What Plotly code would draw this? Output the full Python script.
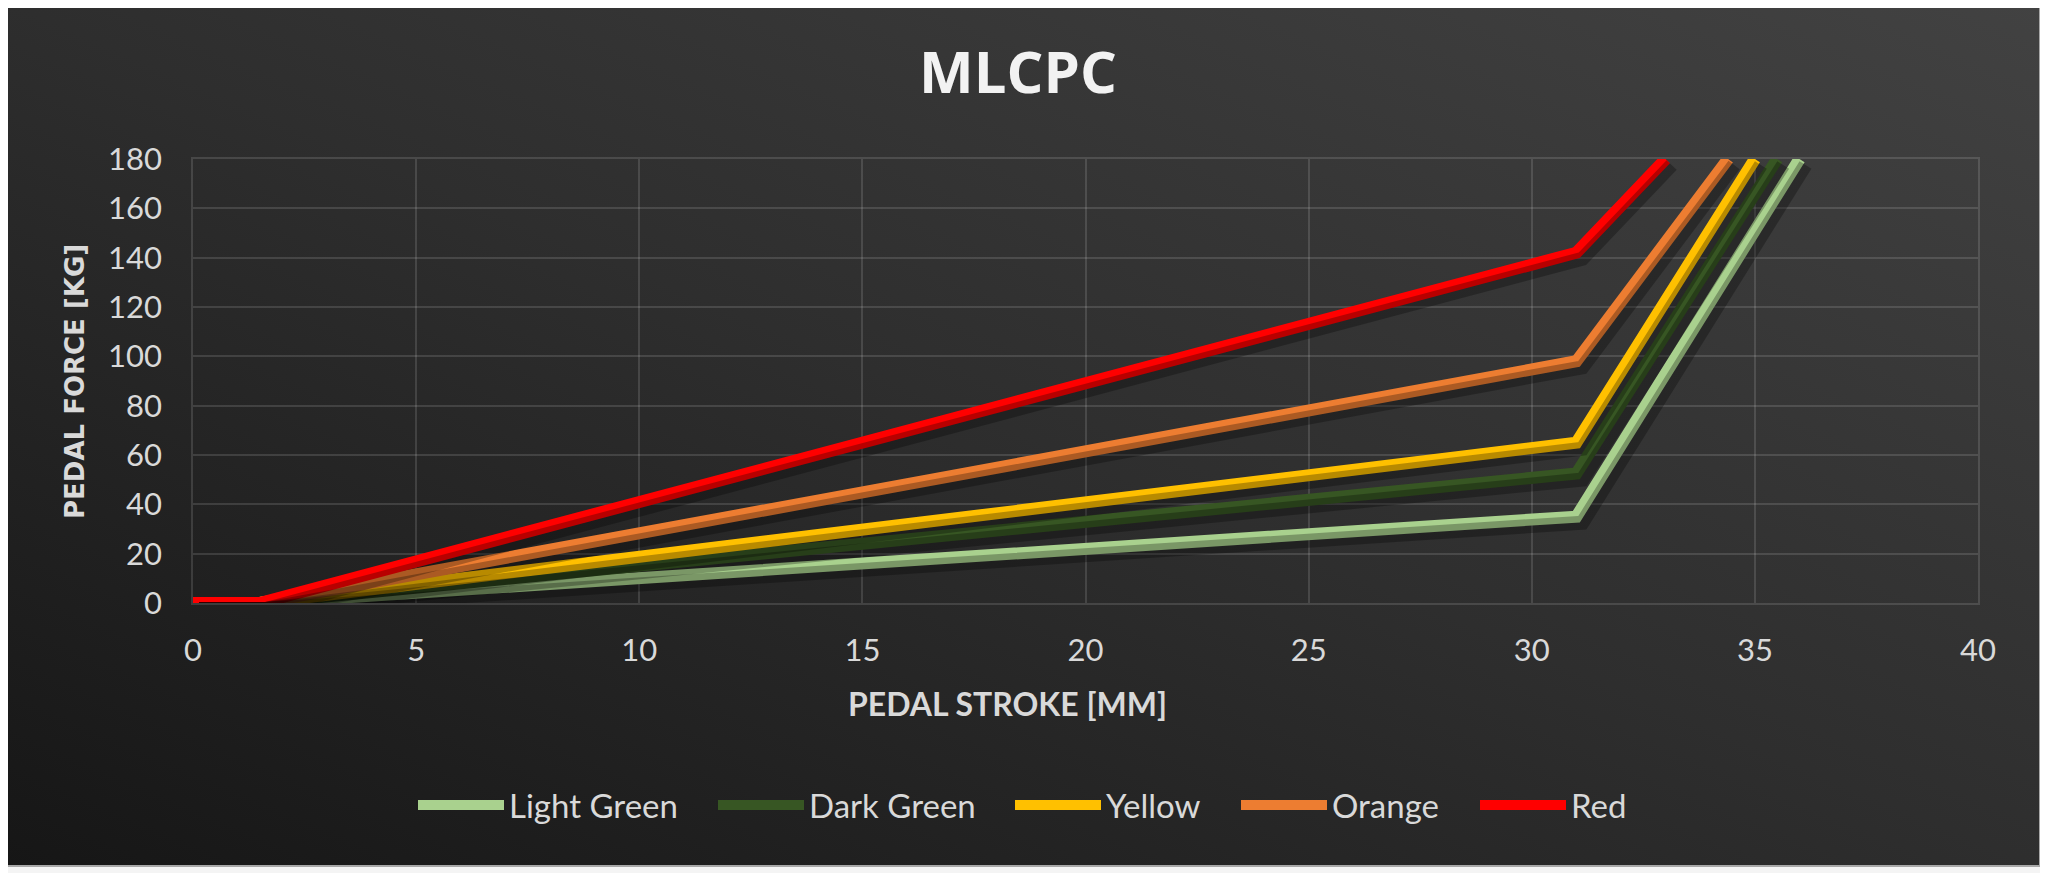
import base64
import plotly.graph_objects as go

# ---- data ----
series_names = ["Light Green", "Dark Green", "Yellow", "Orange", "Red"]
series_colors = ["#A9D18E", "#375623", "#FFC000", "#ED7D31", "#FF0000"]

stroke_light_green = [0, 1.5, 31, 36.0]
force_light_green = [0, 0, 35, 180]

stroke_dark_green = [0, 1.5, 31, 35.5]
force_dark_green = [0, 0, 52.5, 180]

stroke_yellow = [0, 1.5, 31, 35.0]
force_yellow = [0, 0, 65, 180]

stroke_orange = [0, 1.5, 31, 34.4]
force_orange = [0, 0, 98, 180]

stroke_red = [0, 1.5, 31, 33.0]
force_red = [0, 0, 142, 180]

x_series = [stroke_light_green, stroke_dark_green, stroke_yellow, stroke_orange, stroke_red]
y_series = [force_light_green, force_dark_green, force_yellow, force_orange, force_red]

# ---- layout geometry (figure px; page has an 8px body margin) ----
W, H = 2048, 873
L, R, T, B = 185, 78, 151, 278
PW, PH = W - L - R, H - T - B
legend_item_x = [405, 705, 1002, 1228, 1467]
legend_y = 797

fig = go.Figure()

# soft drop shadows: same data drawn on an offset overlay axis
sx, sy = 6 / PW * 40, 6 / PH * 180
for xs, ys in zip(x_series, y_series):
    fig.add_trace(go.Scatter(x=xs, y=ys, mode="lines", xaxis="x2", yaxis="y2",
                             line=dict(color="rgba(0,0,0,0.28)", width=14),
                             showlegend=False, hoverinfo="skip"))

legend_ids = ["legend", "legend2", "legend3", "legend4", "legend5"]
for name, col, xs, ys, lg in zip(series_names, series_colors, x_series, y_series, legend_ids):
    fig.add_trace(go.Scatter(x=xs, y=ys, mode="lines", name=name, legend=lg,
                             line=dict(color=col, width=12)))

svg = (
    f"<svg xmlns='http://www.w3.org/2000/svg' width='{W}' height='{H}'>"
    "<defs><linearGradient id='g' x1='0' y1='1' x2='1' y2='0'>"
    "<stop offset='0' stop-color='#161616'/>"
    "<stop offset='0.5' stop-color='#2e2e2e'/>"
    "<stop offset='1' stop-color='#424242'/>"
    "</linearGradient></defs>"
    f"<rect width='{W}' height='{H}' fill='#f4f4f4'/>"
    "<rect x='-10' y='-10' width='2042' height='868' fill='url(#g)' stroke='#a8a8a8' stroke-width='2'/>"
    "</svg>"
)
src = "data:image/svg+xml;base64," + base64.b64encode(svg.encode()).decode()

grid = "rgba(255,255,255,0.13)"
tickfont = dict(family="Lato", size=31, color="#d9d9d9")
legfont = dict(family="Lato", size=33, color="#d9d9d9")

legends = {}
for lg, lx in zip(legend_ids, legend_item_x):
    legends[lg] = dict(orientation="h", xref="container", x=lx / W, xanchor="left",
                       yref="container", y=1 - legend_y / H, yanchor="middle",
                       font=legfont, itemwidth=86, bgcolor="rgba(0,0,0,0)",
                       borderwidth=0)

fig.update_layout(
    width=W, height=H,
    margin=dict(l=L, r=R, t=T, b=B),
    paper_bgcolor="#2a2a2a",
    plot_bgcolor="rgba(0,0,0,0)",
    images=[dict(source=src, xref="paper", yref="paper",
                 x=-L / PW, y=1 + T / PH, sizex=W / PW, sizey=H / PH,
                 xanchor="left", yanchor="top", sizing="stretch", layer="below")],
    title=dict(text="<b>MLCPC</b>", x=1010 / W, xref="container", xanchor="center",
               y=1 - 65 / H, yref="container", yanchor="middle",
               font=dict(family="Open Sans", size=58, color="#f2f2f2")),
    xaxis=dict(range=[0, 40], dtick=5, tick0=0, showgrid=True, gridcolor=grid, gridwidth=1.5,
               zeroline=False, showline=True, mirror=True, linecolor=grid, linewidth=1.5,
               tickfont=tickfont, ticklabelstandoff=19, fixedrange=True),
    yaxis=dict(range=[0, 180], dtick=20, tick0=0, showgrid=True, gridcolor=grid, gridwidth=1.5,
               zeroline=False, showline=True, mirror=True, linecolor=grid, linewidth=1.5,
               tickfont=tickfont, ticklabelstandoff=23, fixedrange=True),
    xaxis2=dict(range=[0 - sx, 40 - sx], overlaying="x", visible=False, fixedrange=True),
    yaxis2=dict(range=[0 + sy, 180 + sy], overlaying="y", visible=False, fixedrange=True),
    showlegend=True,
    annotations=[
        dict(text="<b>PEDAL STROKE [MM]</b>", xref="paper", yref="paper",
             x=(999 - L) / PW, y=1 - (695 - T) / PH, xanchor="center", yanchor="middle",
             showarrow=False, font=dict(family="Lato", size=32, color="#d9d9d9")),
        dict(text="<b>PEDAL FORCE [KG]</b>", xref="paper", yref="paper",
             x=(67 - L) / PW, y=1 - (374 - T) / PH, xanchor="center", yanchor="middle",
             textangle=-90, showarrow=False,
             font=dict(family="DejaVu Sans", size=26, color="#d9d9d9")),
    ],
    **legends,
)

fig.write_html("out.html")
